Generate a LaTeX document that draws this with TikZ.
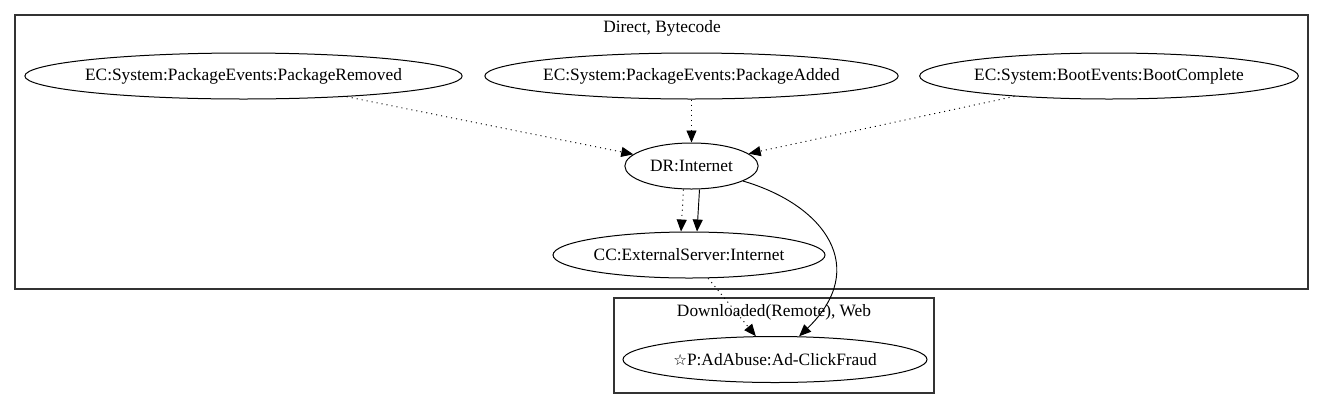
\documentclass[tikz,border=0pt]{standalone}
\usepackage{fontspec}
\setmainfont{Liberation Serif}
\newfontfamily\symfont{DejaVu Sans}
\usetikzlibrary{shapes,arrows.meta,positioning,calc}

\newcommand{\lbl}[1]{\makebox[0pt]{#1}}

\tikzset{
    state/.style={draw, ellipse, inner sep=0pt, minimum height=34.5pt, line width=0.75pt, font=\fontsize{13pt}{15pt}\selectfont},
    cluster/.style={draw, line width=0.8pt, black!80},
    clabel/.style={font=\fontsize{13pt}{15pt}\selectfont},
    flow/.style={line width=0.7pt, -{Triangle[length=9pt, width=7.5pt]}},
    dots/.style={flow, dash pattern=on 0.8pt off 3pt},
}

\begin{document}
\begin{tikzpicture}[x=0.75pt, y=-0.75pt]
    \useasboundingbox (0,0) rectangle (1323,408);
    % clusters
    \draw [cluster] (15,15) rectangle (1308,289);
    \node (direct) [clabel] at (662,28) {Direct, Bytecode};
    \draw [cluster] (614,298) rectangle (934,393);
    \node (remote) [clabel] at (774,312) {Downloaded(Remote), Web};

    \node (removed) [state, minimum width=328pt] at (243.5,76) {\lbl{EC:System:PackageEvents:PackageRemoved}};
    \node (added) [state, minimum width=310pt] at (691.5,76) {\lbl{EC:System:PackageEvents:PackageAdded}};
    \node (boot) [state, minimum width=284pt] at (1109,76) {\lbl{EC:System:BootEvents:BootComplete}};
    \node (internet) [state, minimum width=100pt] at (691.5,166) {\lbl{DR:Internet}};
    \node (server) [state, minimum width=204pt] at (689,255) {\lbl{CC:ExternalServer:Internet}};
    \node (fraud) [state, minimum width=228pt] at (775,359.5) {\lbl{{\symfont\fontsize{11.5pt}{14pt}\selectfont ☆}P:AdAbuse:Ad-ClickFraud}};

    \draw [dots] (removed) -- (internet);
    \draw [dots] (added) -- (internet);
    \draw [dots] (boot) -- (internet);
    \draw [dots] ([xshift=-6pt]internet.south) -- ([xshift=-6pt]server.north);
    \draw [flow] ([xshift=6pt]internet.south) -- ([xshift=6pt]server.north);
    \draw [flow] (internet) .. controls (825,205) and (870,268) .. (fraud);
    \draw [dots] (server) -- (fraud);
\end{tikzpicture}
\end{document}
